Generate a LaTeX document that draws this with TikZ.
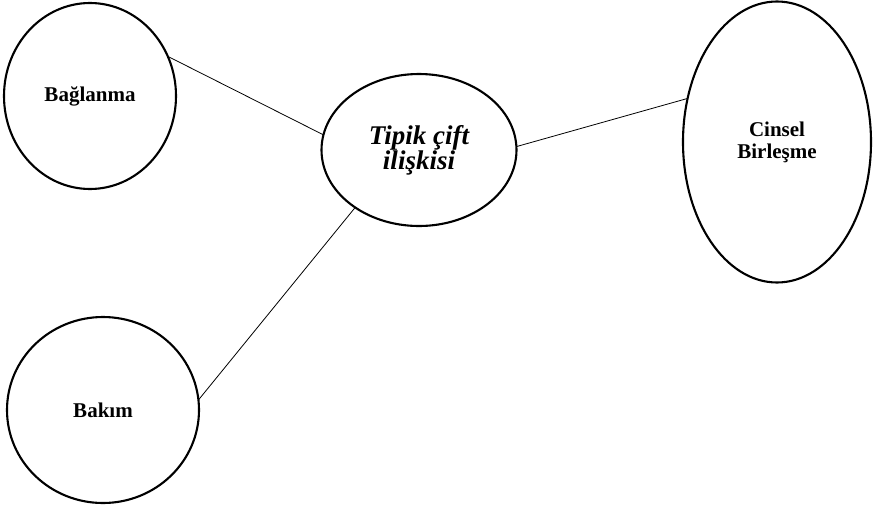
\documentclass[tikz,border=0pt]{standalone}
\usepackage{fontspec}
\setmainfont{Liberation Serif}
\usepackage{tikz}
\usetikzlibrary{shapes.geometric}

\begin{document}
\begin{tikzpicture}[x=1pt,y=-1pt,
  blob/.style={draw,ellipse,line width=2.1pt,inner sep=0pt,outer sep=0pt,align=center,font=\fontsize{21}{22}\selectfont\bfseries},
  link/.style={line width=0.8pt}]
\useasboundingbox (0,0) rectangle (873,509);
\node[blob,minimum width=172pt,minimum height=186pt] (bag) at (90,96) {Bağlanma};
\node[blob,minimum width=192pt,minimum height=186pt] (bak) at (103,410) {Bakım};
\node[blob,minimum width=195pt,minimum height=152pt,font=\fontsize{27}{25}\selectfont\bfseries\itshape] (tip) at (419,150) {Tipik çift\\ ilişkisi};
\node[blob,minimum width=188pt,minimum height=281pt] (cin) at (777,142) {Cinsel\\ Birleşme};
\draw[link] (bag.27) -- (tip.171);
\draw[link] (tip.222) -- (bak.6);
\draw[link] (tip.2) -- (cin.154);
\end{tikzpicture}
\end{document}
